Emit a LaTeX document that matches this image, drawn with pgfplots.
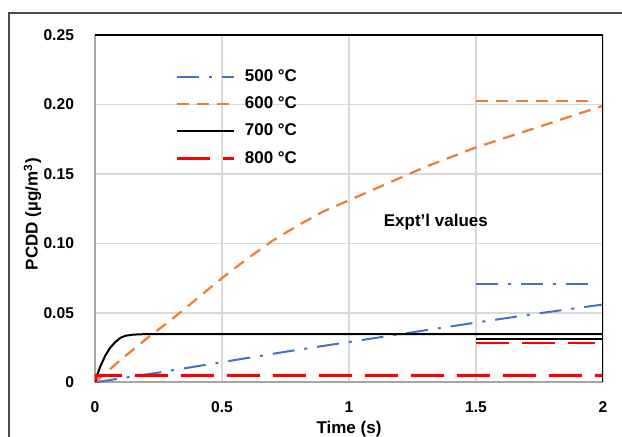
\documentclass[border=0pt]{standalone}
\usepackage{fontspec}
\setmainfont{Liberation Sans}
\usepackage{pgfplots}
\pgfplotsset{compat=1.18}
\definecolor{c500}{HTML}{4472C4}
\definecolor{c600}{HTML}{ED7D31}
\definecolor{c800}{HTML}{FF0000}
\definecolor{gridc}{HTML}{D9D9D9}

\begin{document}
\begin{tikzpicture}
\useasboundingbox (-47.5pt,-26.85pt) rectangle (263.5pt,191.15pt);
\draw[gray!60!black, line width=0.8pt] (-43pt,-30pt) -- (-43pt,184.6pt) -- (270pt,184.6pt);
\begin{axis}[
  width=254pt, height=173.7pt, scale only axis,
  xmin=0, xmax=2, ymin=0, ymax=0.25,
  xtick={0,0.5,1,1.5,2}, xticklabels={0,0.5,1,1.5,2},
  ytick={0,0.05,0.10,0.15,0.20,0.25}, yticklabels={0,0.05,0.10,0.15,0.20,0.25},
  major tick length=0,
  axis x line*=bottom, axis y line*=left,
  axis line style={gray!70, line width=0.9pt},
  grid=major, grid style={gridc, line width=0.7pt},
  tick label style={font=\fontsize{7.8}{9}\selectfont\bfseries},
  xticklabel style={yshift=-6pt},
  yticklabel style={xshift=-7pt},
  xlabel={Time (s)}, ylabel={PCDD (µg/m\textsuperscript{3})},
  label style={font=\fontsize{8.5}{10}\selectfont\bfseries},
  xlabel style={at={(rel axis cs:0.5,-0.135)}, anchor=center},
  ylabel style={at={(rel axis cs:-0.123,0.484)}, anchor=center},
  legend style={draw=none, fill=none, at={(rel axis cs:0.147,0.925)}, anchor=north west,
    font=\fontsize{8.5}{10}\selectfont\bfseries, row sep=2.2pt, cells={anchor=west}},
  legend image code/.code={\draw[#1] (0pt,0pt) -- (28.5pt,0pt); \path (31pt,0pt);},
]
% model curves
\addplot[c500, line width=1pt, dash pattern=on 11pt off 5pt on 1.5pt off 5pt] coordinates {
(0,0)(0.1,0.0028)(0.25,0.007)(0.5,0.0145)(0.75,0.022)(1,0.029)(1.25,0.036)(1.5,0.043)(1.75,0.0497)(2,0.056)};
\addlegendentry{500 °C}
\addplot[c600, line width=1.1pt, dash pattern=on 6pt off 4pt] coordinates {
(0,0)(0.1,0.016)(0.2,0.031)(0.3,0.045)(0.4,0.060)(0.5,0.075)(0.6,0.089)(0.7,0.102)(0.8,0.113)(0.9,0.123)
(1.0,0.131)(1.1,0.139)(1.2,0.147)(1.3,0.155)(1.4,0.162)(1.5,0.169)(1.6,0.175)(1.7,0.181)(1.8,0.187)(1.9,0.193)(2.0,0.199)};
\addlegendentry{600 °C}
\addplot[black, line width=1pt] coordinates {
(0,0)(0.01,0.006)(0.02,0.011)(0.03,0.015)(0.04,0.019)(0.05,0.022)(0.06,0.025)(0.08,0.029)(0.1,0.032)(0.12,0.0335)(0.15,0.0343)(0.2,0.0347)(2,0.0347)};
\addlegendentry{700 °C}
\addplot[c800, line width=1.4pt, dash pattern=on 16.5pt off 6.5pt] coordinates {
(0,0)(0.003,0.005)(2,0.005)};
\addlegendentry{800 °C}
% experimental values
\addplot[forget plot, c500, line width=1pt, dash pattern=on 11pt off 5pt on 1.5pt off 5pt] coordinates {(1.5,0.071)(1.96,0.071)};
\addplot[forget plot, c600, line width=1.1pt, dash pattern=on 6pt off 4pt] coordinates {(1.5,0.2025)(1.97,0.2025)};
\addplot[forget plot, black, line width=1pt] coordinates {(1.5,0.0315)(2,0.0315)};
\addplot[forget plot, c800, line width=1.4pt, dash pattern=on 16.5pt off 6.5pt] coordinates {(1.5,0.0283)(1.97,0.0283)};
\draw[black, line width=1pt] (rel axis cs:0,1) -- (rel axis cs:1,1) -- (rel axis cs:1,0);
\node[font=\fontsize{8.5}{10}\selectfont\bfseries] at (axis cs:1.342,0.115) {Expt'l values};
\end{axis}
\end{tikzpicture}
\end{document}
